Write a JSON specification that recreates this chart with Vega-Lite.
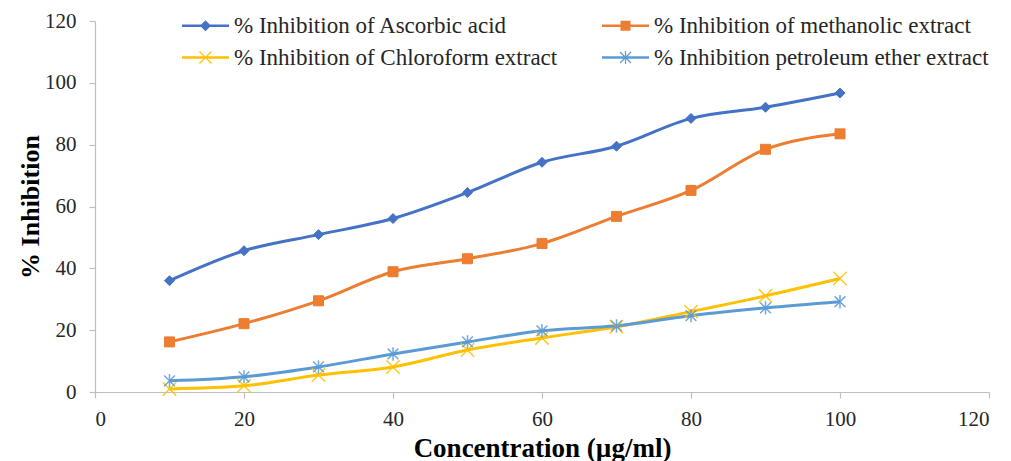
{
  "$schema": "https://vega.github.io/schema/vega-lite/v6.json",
  "width": 894,
  "height": 371,
  "autosize": {"type": "none"},
  "padding": {"left": 95, "top": 21, "right": 22, "bottom": 69},
  "background": "white",
  "config": {
    "view": {"stroke": null},
    "font": "Liberation Serif",
    "axis": {"grid": false, "domainColor": "#BFBFBF", "tickColor": "#BFBFBF", "domainWidth": 1.2, "tickWidth": 1.2, "labelColor": "#262626", "titleColor": "#000000", "labelFont": "Liberation Serif", "titleFont": "Liberation Serif"},
    "legend": {"labelFont": "Liberation Serif"}
  },
  "data": {
    "values": [
      {"series": "% Inhibition of Ascorbic acid", "conc": 10, "inh": 36.0},
      {"series": "% Inhibition of Ascorbic acid", "conc": 20, "inh": 45.7},
      {"series": "% Inhibition of Ascorbic acid", "conc": 30, "inh": 50.9},
      {"series": "% Inhibition of Ascorbic acid", "conc": 40, "inh": 56.1},
      {"series": "% Inhibition of Ascorbic acid", "conc": 50, "inh": 64.5},
      {"series": "% Inhibition of Ascorbic acid", "conc": 60, "inh": 74.3},
      {"series": "% Inhibition of Ascorbic acid", "conc": 70, "inh": 79.5},
      {"series": "% Inhibition of Ascorbic acid", "conc": 80, "inh": 88.5},
      {"series": "% Inhibition of Ascorbic acid", "conc": 90, "inh": 92.1},
      {"series": "% Inhibition of Ascorbic acid", "conc": 100, "inh": 96.7},
      {"series": "% Inhibition of methanolic extract", "conc": 10, "inh": 16.2},
      {"series": "% Inhibition of methanolic extract", "conc": 20, "inh": 22.1},
      {"series": "% Inhibition of methanolic extract", "conc": 30, "inh": 29.5},
      {"series": "% Inhibition of methanolic extract", "conc": 40, "inh": 38.9},
      {"series": "% Inhibition of methanolic extract", "conc": 50, "inh": 43.1},
      {"series": "% Inhibition of methanolic extract", "conc": 60, "inh": 48.0},
      {"series": "% Inhibition of methanolic extract", "conc": 70, "inh": 56.8},
      {"series": "% Inhibition of methanolic extract", "conc": 80, "inh": 65.2},
      {"series": "% Inhibition of methanolic extract", "conc": 90, "inh": 78.5},
      {"series": "% Inhibition of methanolic extract", "conc": 100, "inh": 83.5},
      {"series": "% Inhibition of Chloroform extract", "conc": 10, "inh": 1.0},
      {"series": "% Inhibition of Chloroform extract", "conc": 20, "inh": 2.0},
      {"series": "% Inhibition of Chloroform extract", "conc": 30, "inh": 5.5},
      {"series": "% Inhibition of Chloroform extract", "conc": 40, "inh": 8.1},
      {"series": "% Inhibition of Chloroform extract", "conc": 50, "inh": 13.6},
      {"series": "% Inhibition of Chloroform extract", "conc": 60, "inh": 17.5},
      {"series": "% Inhibition of Chloroform extract", "conc": 70, "inh": 21.1},
      {"series": "% Inhibition of Chloroform extract", "conc": 80, "inh": 26.0},
      {"series": "% Inhibition of Chloroform extract", "conc": 90, "inh": 31.1},
      {"series": "% Inhibition of Chloroform extract", "conc": 100, "inh": 36.7},
      {"series": "% Inhibition petroleum ether extract", "conc": 10, "inh": 3.6},
      {"series": "% Inhibition petroleum ether extract", "conc": 20, "inh": 4.9},
      {"series": "% Inhibition petroleum ether extract", "conc": 30, "inh": 8.1},
      {"series": "% Inhibition petroleum ether extract", "conc": 40, "inh": 12.3},
      {"series": "% Inhibition petroleum ether extract", "conc": 50, "inh": 16.2},
      {"series": "% Inhibition petroleum ether extract", "conc": 60, "inh": 19.8},
      {"series": "% Inhibition petroleum ether extract", "conc": 70, "inh": 21.4},
      {"series": "% Inhibition petroleum ether extract", "conc": 80, "inh": 24.7},
      {"series": "% Inhibition petroleum ether extract", "conc": 90, "inh": 27.2},
      {"series": "% Inhibition petroleum ether extract", "conc": 100, "inh": 29.2}
    ]
  },
  "encoding": {
    "x": {"field": "conc", "type": "quantitative", "title": "Concentration (µg/ml)",
      "scale": {"domain": [0, 120], "nice": false},
      "axis": {"values": [0, 20, 40, 60, 80, 100, 120], "tickSize": 6, "labelFontSize": 21, "labelPadding": 10, "titleFontSize": 27, "titleFontWeight": "bold", "titlePadding": 6}},
    "y": {"field": "inh", "type": "quantitative", "title": "% Inhibition",
      "scale": {"domain": [0, 120], "nice": false},
      "axis": {"values": [0, 20, 40, 60, 80, 100, 120], "tickSize": 6, "labelFontSize": 21, "labelPadding": 13, "titleFontSize": 26, "titleFontWeight": "bold", "titlePadding": 1}}
  },
  "layer": [
    {
      "transform": [{"filter": "datum.series == '% Inhibition of Ascorbic acid'"}],
      "mark": {"type": "line", "interpolate": "monotone", "strokeWidth": 3, "stroke": "#4472C4"}
    },
    {
      "transform": [{"filter": "datum.series == '% Inhibition of methanolic extract'"}],
      "mark": {"type": "line", "interpolate": "monotone", "strokeWidth": 3, "stroke": "#ED7D31"}
    },
    {
      "transform": [{"filter": "datum.series == '% Inhibition of Chloroform extract'"}],
      "mark": {"type": "line", "interpolate": "monotone", "strokeWidth": 3, "stroke": "#FFC000"}
    },
    {
      "transform": [{"filter": "datum.series == '% Inhibition petroleum ether extract'"}],
      "mark": {"type": "line", "interpolate": "monotone", "strokeWidth": 3, "stroke": "#5B9BD5"}
    },
    {
      "transform": [{"filter": "datum.series == '% Inhibition of Ascorbic acid'"}],
      "mark": {"type": "point", "shape": "M0,-1L1,0L0,1L-1,0Z", "filled": true, "fill": "#4472C4", "stroke": "#4472C4", "strokeWidth": 1, "size": 100, "opacity": 1}
    },
    {
      "transform": [{"filter": "datum.series == '% Inhibition of methanolic extract'"}],
      "mark": {"type": "point", "shape": "M-1,-1L1,-1L1,1L-1,1Z", "filled": true, "fill": "#ED7D31", "stroke": "#ED7D31", "strokeWidth": 1, "size": 100, "opacity": 1}
    },
    {
      "transform": [{"filter": "datum.series == '% Inhibition of Chloroform extract'"}],
      "mark": {"type": "point", "shape": "M-1,-1L1,1M-1,1L1,-1", "filled": false, "stroke": "#FFC000", "strokeWidth": 1.5, "size": 180, "opacity": 0.85}
    },
    {
      "transform": [{"filter": "datum.series == '% Inhibition petroleum ether extract'"}],
      "mark": {"type": "point", "shape": "M0,-1L0,1M-0.8,-0.8L0.8,0.8M-0.8,0.8L0.8,-0.8", "filled": false, "stroke": "#5B9BD5", "strokeWidth": 1.5, "size": 180, "opacity": 0.85}
    },
    {
      "mark": {"type": "point", "filled": true, "size": 0, "strokeWidth": 0, "opacity": 1},
      "encoding": {
        "fill": {"field": "series", "type": "nominal",
          "scale": {"domain": ["% Inhibition of Ascorbic acid", "% Inhibition of methanolic extract", "% Inhibition of Chloroform extract", "% Inhibition petroleum ether extract"], "range": ["#4472C4", "#ED7D31", "#FFC000", "#5B9BD5"]},
          "legend": {"orient": "none", "direction": "horizontal", "legendX": 99, "legendY": -7, "columns": 2, "title": null, "padding": 0, "columnPadding": 44, "rowPadding": 8, "labelFontSize": 23, "labelFont": "Liberation Serif", "labelColor": "#262626", "labelLimit": 500, "labelOffset": 17, "symbolSize": 100, "symbolStrokeWidth": 0, "symbolOpacity": 1}},
        "shape": {"field": "series", "type": "nominal",
          "scale": {"domain": ["% Inhibition of Ascorbic acid", "% Inhibition of methanolic extract", "% Inhibition of Chloroform extract", "% Inhibition petroleum ether extract"],
            "range": [
              "M-4.7,-0.27L4.7,-0.27L4.7,0.27L-4.7,0.27ZM0,-1.1L1.1,0L0,1.1L-1.1,0Z",
              "M-4.7,-0.27L4.7,-0.27L4.7,0.27L-4.7,0.27ZM-1,-1L1,-1L1,1L-1,1Z",
              "M-4.7,-0.27L4.7,-0.27L4.7,0.27L-4.7,0.27ZM-1.115,-1.285L1.285,1.115L1.115,1.285L-1.285,-1.115ZM-1.285,1.115L1.115,-1.285L1.285,-1.115L-1.115,1.285Z",
              "M-4.7,-0.27L4.7,-0.27L4.7,0.27L-4.7,0.27ZM-0.12,-1.3L0.12,-1.3L0.12,1.3L-0.12,1.3ZM-1.015,-1.185L1.185,1.015L1.015,1.185L-1.185,-1.015ZM-1.185,1.015L1.015,-1.185L1.185,-1.015L-1.015,1.185Z"
            ]}}
      }
    }
  ]
}
